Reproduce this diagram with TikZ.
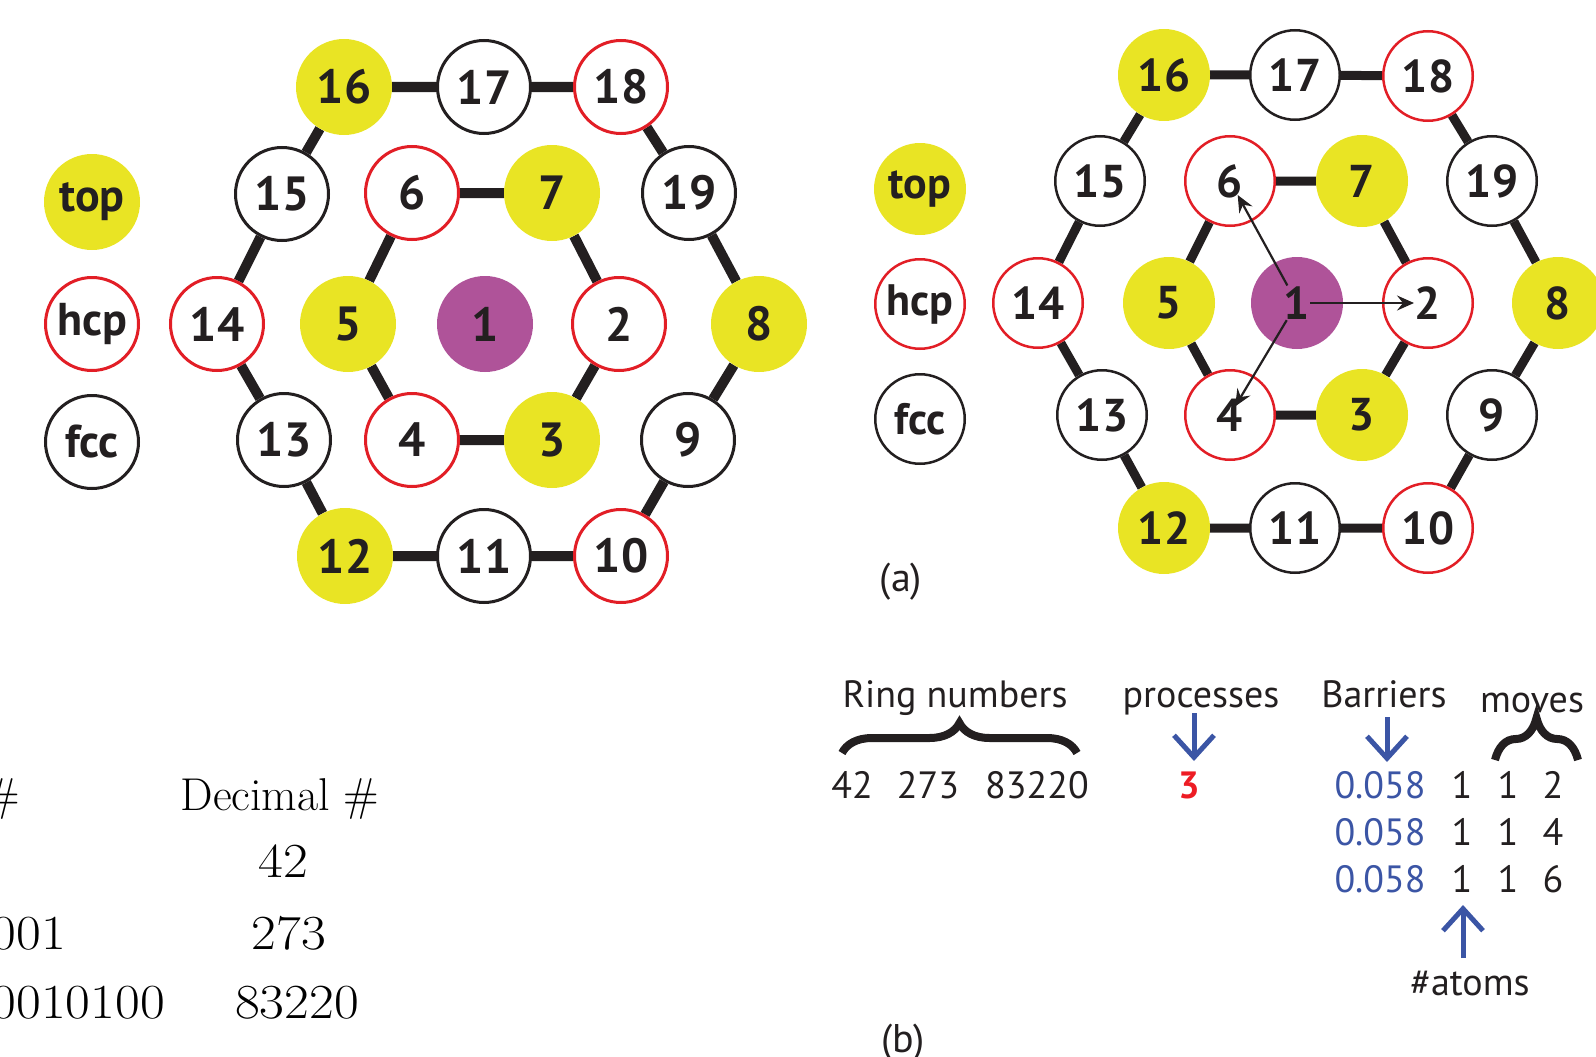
\documentclass[tikz,border=0pt]{standalone}
\usepackage{fontspec}
\newfontfamily\pts{PT Sans}
\usetikzlibrary{arrows.meta,decorations.pathreplacing,backgrounds}
\definecolor{topY}{HTML}{E9E424}
\definecolor{hcpR}{HTML}{E21E26}
\definecolor{adP}{HTML}{AF5399}
\definecolor{ink}{HTML}{231F20}
\definecolor{ablue}{HTML}{3B55A5}
\definecolor{numred}{HTML}{ED1C24}

\newcommand\widedigits[1]{\scalebox{1.1}[1]{#1}}

\tikzset{
  site/.style={circle, inner sep=0pt, text=ink,
    font=\pts\bfseries\fontsize{\F}{\F}\selectfont},
  tp/.style={site, fill=topY, minimum size=\D},
  ad/.style={site, fill=adP, minimum size=\D},
  hc/.style={site, fill=white, draw=hcpR, line width=\W, minimum size=\Di},
  fc/.style={site, fill=white, draw=ink, line width=\W, minimum size=\Di},
  bond/.style={line width=\B, ink},
  move/.style={line width=2.2pt, ink, -{Stealth[length=17pt,width=15pt,inset=6pt]}},
  ptr/.style={line width=5pt, ablue, -{Straight Barb[length=22pt,width=40pt]}},
  curly/.style={decorate, decoration={brace, amplitude=#1}, line width=8pt, ink},
  lbl/.style={inner sep=0pt, anchor=base, text=ink, font=\pts\fontsize{38}{38}\selectfont},
  serif/.style={inner sep=0pt, anchor=base, text=black, font=\fontsize{46}{46}\selectfont},
  sdig/.style={inner sep=0pt, anchor=base, text=black, font=\fontsize{49}{49}\selectfont},
}

\begin{document}
\begin{tikzpicture}[x=1pt,y=-1pt]
\useasboundingbox (0,0) rectangle (1596,1057);
\clip (0,0) rectangle (1596,1057);

% ---------------- left lattice ----------------
\begin{scope}
\def\D{96pt}\def\Di{93pt}\def\W{3pt}\def\F{48}\def\B{10pt}
\node[tp] (ltop) at (92,202) {\fontsize{46}{46}\selectfont top};
\node[hc] (lhcp) at (92,324) {\fontsize{46}{46}\selectfont hcp};
\node[fc] (lfcc) at (92,442) {\fontsize{46}{46}\selectfont fcc};

\node[tp] (a16) at (344,87) {16};
\node[fc] (a17) at (484,87) {17};
\node[hc] (a18) at (621,87) {18};
\node[fc] (a15) at (282,194) {15};
\node[hc] (a6)  at (412,193) {6};
\node[tp] (a7)  at (552,193) {7};
\node[fc] (a19) at (689,193) {19};
\node[hc] (a14) at (217,324) {14};
\node[tp] (a5)  at (348,324) {5};
\node[ad] (a1)  at (485,324) {1};
\node[hc] (a2)  at (619,324) {2};
\node[tp] (a8)  at (759,324) {8};
\node[fc] (a13) at (284,440) {13};
\node[hc] (a4)  at (412,440) {4};
\node[tp] (a3)  at (552,440) {3};
\node[fc] (a9)  at (688,440) {9};
\node[tp] (a12) at (345,556) {12};
\node[fc] (a11) at (484,556) {11};
\node[hc] (a10) at (621,556) {10};

\begin{pgfonlayer}{background}
\draw[bond] (a16) -- (a17) -- (a18) -- (a19) -- (a8) -- (a9) -- (a10)
            -- (a11) -- (a12) -- (a13) -- (a14) -- (a15) -- (a16);
\draw[bond] (a6) -- (a7) -- (a2) -- (a3) -- (a4) -- (a5) -- (a6);
\end{pgfonlayer}
\end{scope}

% ---------------- right lattice ----------------
\begin{scope}
\def\D{92pt}\def\Di{89.5pt}\def\W{2.5pt}\def\F{46}\def\B{9pt}
\node[tp] (rtop) at (920,189) {\fontsize{44}{44}\selectfont top};
\node[hc] (rhcp) at (920,304) {\fontsize{44}{44}\selectfont hcp};
\node[fc] (rfcc) at (920,419) {\fontsize{44}{44}\selectfont fcc};

\node[tp] (b16) at (1164,75) {16};
\node[fc] (b17) at (1295,75) {17};
\node[hc] (b18) at (1428,76) {18};
\node[fc] (b15) at (1100,181) {15};
\node[hc] (b6)  at (1230,181) {6};
\node[tp] (b7)  at (1362,181) {7};
\node[fc] (b19) at (1492,181) {19};
\node[hc] (b14) at (1038,303) {14};
\node[tp] (b5)  at (1169,303) {5};
\node[ad] (b1)  at (1297,303) {1};
\node[hc] (b2)  at (1428,303) {2};
\node[tp] (b8)  at (1558,303) {8};
\node[fc] (b13) at (1102,415) {13};
\node[hc] (b4)  at (1230,415) {4};
\node[tp] (b3)  at (1362,415) {3};
\node[fc] (b9)  at (1492,415) {9};
\node[tp] (b12) at (1164,528) {12};
\node[fc] (b11) at (1295,528) {11};
\node[hc] (b10) at (1428,528) {10};

\begin{pgfonlayer}{background}
\draw[bond] (b16) -- (b17) -- (b18) -- (b19) -- (b8) -- (b9) -- (b10)
            -- (b11) -- (b12) -- (b13) -- (b14) -- (b15) -- (b16);
\draw[bond] (b6) -- (b7) -- (b2) -- (b3) -- (b4) -- (b5) -- (b6);
\end{pgfonlayer}

% hops of the central adatom
\draw[move, shorten <=13pt, shorten >=14pt] (b1.center) -- (b2.center);
\draw[move, shorten <=20pt, shorten >=16pt] (b1.center) -- (b6.center);
\draw[move, shorten <=20pt, shorten >=10pt] (b1.center) -- (b4.center);
\end{scope}

\node[lbl, font=\pts\fontsize{40}{40}\selectfont] (tagA) at (901,591) {(a)};
\node[lbl, font=\pts\fontsize{40}{40}\selectfont] (tagB) at (903,1052) {(b)};

% ---------------- encoding of the configuration ----------------
\node[lbl] (hring) at (955,707) {Ring numbers};
\node[lbl] (hproc) at (1201,707) {processes};
\node[lbl] (hbar)  at (1384,707) {Barriers};
\node[lbl] (hmov)  at (1532,712) {moves};

\draw[curly=30pt] (842,753) -- (1077,753);
\draw[curly=42pt] (1495,760) -- (1578,760);

\node[lbl] (r42)  at (852,798) {42};
\node[lbl] (r273) at (928,798) {273};
\node[lbl] (r832) at (1037,798) {83220};
\node[lbl, text=numred, font=\pts\bfseries\fontsize{38}{38}\selectfont] (nproc) at (1189,798) {3};

\foreach \y/\m [count=\i] in {798/2, 845/4, 892/6} {
  \node[lbl, text=ablue] (bar\i) at (1380,\y) {0.058};
  \node[lbl] (nat\i) at (1462,\y) {1};
  \node[lbl] (mva\i) at (1508,\y) {1};
  \node[lbl] (mvb\i) at (1553,\y) {\m};
}
\node[lbl] (hatoms) at (1470,995) {\#atoms};

\coordinate (p1) at (1194,713); \coordinate (p2) at (1194,761);
\coordinate (q1) at (1387,717); \coordinate (q2) at (1387,762);
\coordinate (s1) at (1463,958); \coordinate (s2) at (1463,905);
\draw[ptr] (p1) -- (p2);
\draw[ptr] (q1) -- (q2);
\draw[ptr] (s1) -- (s2);

% ---------------- ring-number table ----------------
\node[serif, anchor=base east] (hbin) at (20,810) {\#};
\node[serif] (hdec) at (280,810) {Decimal \#};
\node[sdig] (d1) at (283,877) {\widedigits{42}};
\node[sdig, anchor=base east] (b2n) at (66,949) {\widedigits{001}};
\node[sdig] (d2) at (289,949) {\widedigits{273}};
\node[sdig, anchor=base east] (b3n) at (165,1018) {\widedigits{0010100}};
\node[sdig] (d3) at (297,1018) {\widedigits{83220}};
\end{tikzpicture}
\end{document}
